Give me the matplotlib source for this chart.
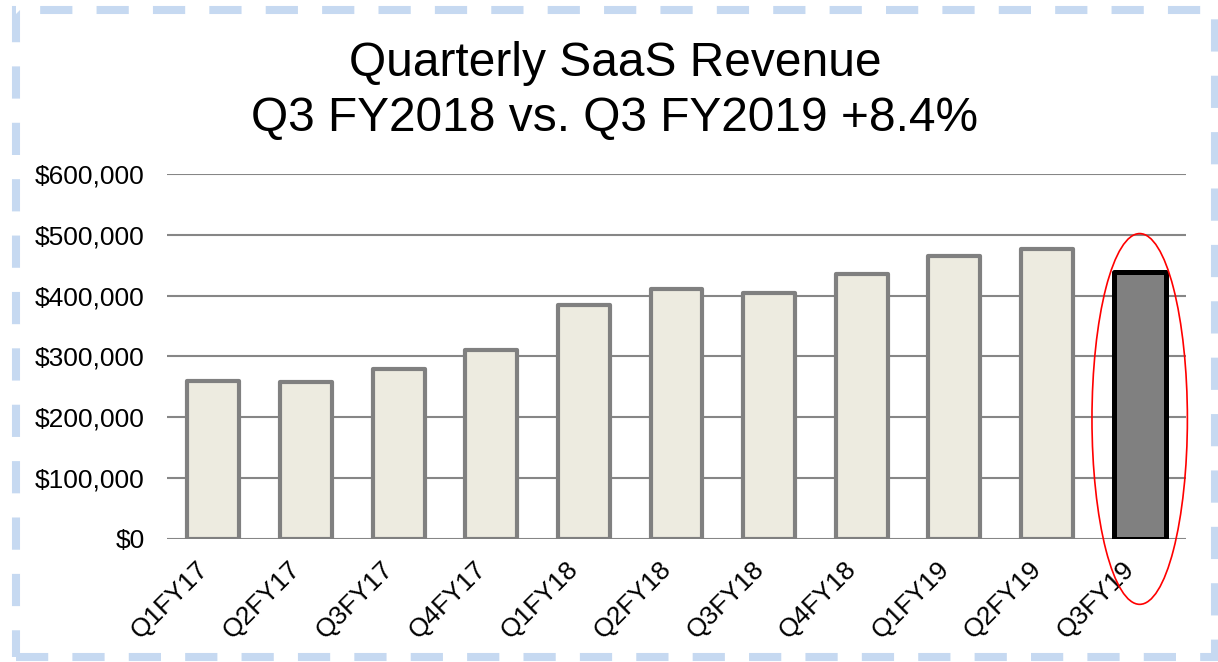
import matplotlib
matplotlib.use("Agg")
import matplotlib.pyplot as plt
from matplotlib.patches import Ellipse, Rectangle
from matplotlib.ticker import FuncFormatter
from matplotlib.transforms import ScaledTranslation

plt.rcParams['font.family'] = ['Liberation Sans', 'DejaVu Sans']

categories = ["Q1FY17", "Q2FY17", "Q3FY17", "Q4FY17", "Q1FY18", "Q2FY18",
              "Q3FY18", "Q4FY18", "Q1FY19", "Q2FY19", "Q3FY19"]
revenue = [259000, 257000, 280000, 311000, 385000, 411000,
           404000, 436000, 465000, 477000, 438000]
title_lines = ["Quarterly SaaS Revenue", "Q3 FY2018 vs. Q3 FY2019 +8.4%"]
yticks = [0, 100000, 200000, 300000, 400000, 500000, 600000]

W, H = 1218, 662
fig = plt.figure(figsize=(W / 100, H / 100), dpi=100)
fig.patch.set_facecolor("white")

ax = fig.add_axes([167 / W, 1 - 538.7 / H, (1186 - 167) / W, (538.7 - 174) / H])
x = list(range(len(categories)))
fills = ["#EDEBE0"] * (len(categories) - 1) + ["#808080"]
edges = ["#808080"] * (len(categories) - 1) + ["#000000"]
lws = [3.0] * (len(categories) - 1) + [3.6]
bars = ax.bar(x, revenue, width=0.56, color=fills, edgecolor=edges, linewidth=lws, zorder=3)
for b, lw in zip(bars, lws):
    b.set_linewidth(lw)
    b.set_joinstyle("round")

ax.set_xlim(-0.5, len(categories) - 0.5)
ax.set_ylim(0, 600000)
ax.set_yticks(yticks)
ax.yaxis.set_major_formatter(FuncFormatter(lambda v, p: "${:,.0f}".format(v)))
ax.grid(axis="y", color="#868686", linewidth=1.5, zorder=0)
for s in ax.spines.values():
    s.set_visible(False)
ax.tick_params(axis="both", length=0, labelsize=19, colors="black")
ax.tick_params(axis="y", pad=16)
ax.set_xticks(x)
ax.set_xticklabels(categories, rotation=45, ha="right", va="center",
                   rotation_mode="anchor", fontsize=19)
ax.tick_params(axis="x", pad=14)
offset = ScaledTranslation(-0.09, -0.07, fig.dpi_scale_trans)
for lab in ax.get_xticklabels():
    lab.set_transform(lab.get_transform() + offset)

# highlight ellipse around the last bar
ell = Ellipse((x[-1], 197000), width=1.03, height=610000, fill=False,
              edgecolor="#FF0000", linewidth=1.2, zorder=5, clip_on=False)
ax.add_patch(ell)

# titles
fig.text(615 / W, 1 - 76 / H, title_lines[0], ha="center", va="baseline", fontsize=34.5)
fig.text(615 / W, 1 - 131 / H, title_lines[1], ha="center", va="baseline", fontsize=34.5)

# dashed light-blue frame
frame = Rectangle((15.5 / W, 1 - 657 / H), (1215 - 15.5) / W, (657 - 10) / H,
                  transform=fig.transFigure, fill=False, edgecolor="#C6D9F1",
                  linewidth=5.8, linestyle=(0, (4, 3)), capstyle="butt", zorder=0)
fig.patches.append(frame)

fig.savefig("out.png", dpi=100)
